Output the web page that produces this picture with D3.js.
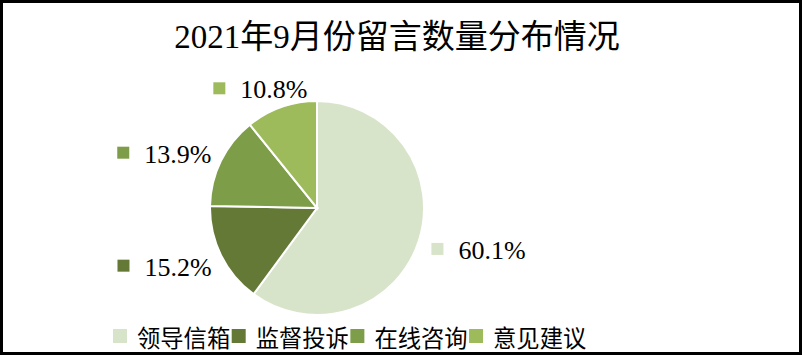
<!DOCTYPE html>
<html lang="zh">
<head>
<meta charset="UTF-8">
<title>2021年9月份留言数量分布情况</title>
<script src="https://cdn.jsdelivr.net/npm/d3@7"></script>
<style>
   html, body { margin: 0; padding: 0; background: #fff; }
   svg { display: block; }
   .title { font-family: "Liberation Serif", "Noto Sans CJK SC", serif; font-size: 33px; }
   .label { font-family: "Liberation Serif", serif; font-size: 26px; }
   .legend text { font-family: "Noto Sans CJK SC", sans-serif; font-size: 23.3px; }
</style>
</head>
<body>
<div id="chart"></div>
<script>
   // data
   const categories = ['领导信箱', '监督投诉', '在线咨询', '意见建议']
   const shares = [60.1, 15.2, 13.9, 10.8]
   const colors = ['#d8e4c9', '#657937', '#7d9d48', '#9dbb5a']

   const WIDTH = 802, HEIGHT = 355

   const svg = d3.select('#chart').append('svg')
      .attr('width', WIDTH)
      .attr('height', HEIGHT)

   svg.append('rect')
      .attr('x', 1.5).attr('y', 1.5)
      .attr('width', WIDTH - 3).attr('height', HEIGHT - 3)
      .attr('fill', '#fff')
      .attr('stroke', '#000')
      .attr('stroke-width', 3)

   svg.append('text')
      .attr('class', 'title')
      .attr('x', 397)
      .attr('y', 48)
      .attr('text-anchor', 'middle')
      .text('2021年9月份留言数量分布情况')

   // pie
   const cx = 317, cy = 208, R = 107
   const data = categories.map((c, i) => ({ name: c, value: shares[i], color: colors[i] }))

   const pie = d3.pie().sort(null).value(d => d.value)
   const arc = d3.arc().innerRadius(0).outerRadius(R)
   const arcs = pie(data)

   const g = svg.append('g').attr('transform', `translate(${cx},${cy})`)

   g.selectAll('path')
      .data(arcs)
      .enter()
      .append('path')
         .attr('d', arc)
         .attr('fill', d => d.data.color)
         .attr('stroke', '#fff')
         .attr('stroke-width', 2)

   // data labels (marker + percentage) on an ellipse outside the slices
   const labelRx = 170, labelRy = 128
   const MARK = 12, GAP = 15

   const labels = g.selectAll('g.lbl')
      .data(arcs)
      .enter()
      .append('g')
         .attr('class', 'lbl')

   labels.each(function(d) {
      const a = (d.startAngle + d.endAngle) / 2
      const lx = Math.sin(a) * labelRx
      const ly = -Math.cos(a) * labelRy + 3
      const grp = d3.select(this)
      const txt = grp.append('text')
         .attr('class', 'label')
         .text(d.data.value.toFixed(1) + '%')
      const tw = txt.node().getComputedTextLength()
      const x0 = lx - (MARK + GAP + tw) / 2
      grp.append('rect')
         .attr('x', x0)
         .attr('y', ly - MARK / 2 - 2)
         .attr('width', MARK)
         .attr('height', MARK)
         .attr('fill', d.data.color)
      txt.attr('x', x0 + MARK + GAP)
         .attr('y', ly + 8)
   })

   // legend
   const legend = svg.append('g')
      .attr('class', 'legend')
      .attr('transform', 'translate(113, 329)')

   let lx = 0
   data.forEach(d => {
      legend.append('rect')
         .attr('x', lx)
         .attr('y', 0)
         .attr('width', 14)
         .attr('height', 14)
         .attr('fill', d.color)
      const t = legend.append('text')
         .attr('x', lx + 24)
         .attr('y', 18)
         .text(d.name)
      lx += 24 + t.node().getComputedTextLength() + 1.5
   })
</script>
</body>
</html>
